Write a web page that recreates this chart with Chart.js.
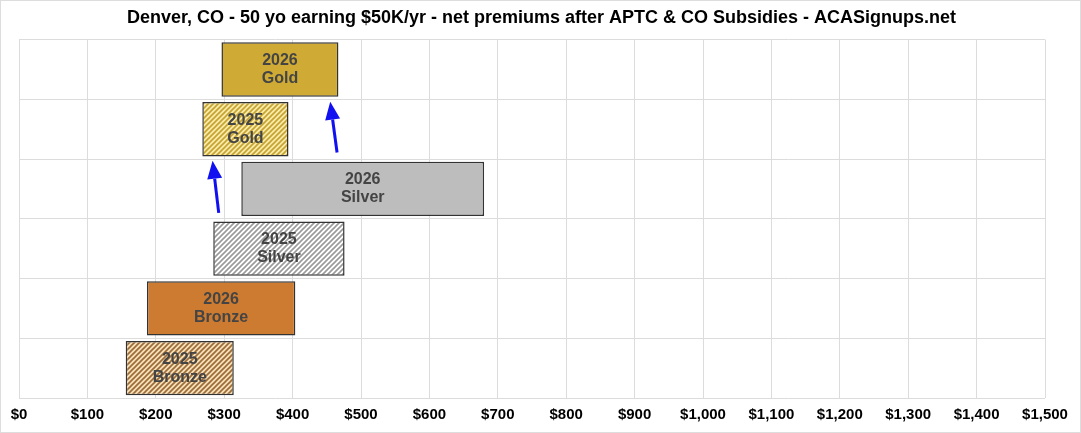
<!DOCTYPE html>
<html>
<head>
<meta charset="utf-8">
<script src="https://cdn.jsdelivr.net/npm/chart.js@4"></script>
<style>
  html, body { margin: 0; padding: 0; background: #fff; }
  #wrap { width: 1081px; height: 433px; position: relative; box-sizing: border-box; border: 1px solid #ddd; }
</style>
</head>
<body>
<div id="wrap"><canvas id="chart"></canvas></div>
<script>
const chartTitle = "Denver, CO - 50 yo earning $50K/yr - net premiums after APTC & CO Subsidies - ACASignups.net";
// plan tiers, top to bottom
const years = ["2026", "2025", "2026", "2025", "2026", "2025"];
const metals = ["Gold", "Gold", "Silver", "Silver", "Bronze", "Bronze"];
// net monthly premium range (lowest, highest) per tier
const lowPremium = [296, 268, 325, 284, 187, 156];
const highPremium = [467, 394, 680, 476, 404, 314];
const xTicks = [0, 100, 200, 300, 400, 500, 600, 700, 800, 900, 1000, 1100, 1200, 1300, 1400, 1500];

// blue arrows: from (x, category position) to (x, category position)
const arrowFromX = [292, 465];
const arrowFromY = [2.4, 1.39];
const arrowToX = [283, 455];
const arrowToY = [1.53, 0.54];

function hatch(bg, fg) {
  const c = document.createElement("canvas");
  c.width = 5; c.height = 5;
  const g = c.getContext("2d");
  g.fillStyle = bg;
  g.fillRect(0, 0, 5, 5);
  g.strokeStyle = fg;
  g.lineWidth = 1.6;
  g.beginPath();
  g.moveTo(-1, 6); g.lineTo(6, -1);
  g.moveTo(-1, 1); g.lineTo(1, -1);
  g.moveTo(4, 6); g.lineTo(6, 4);
  g.stroke();
  return g.createPattern(c, "repeat");
}

const ctx = document.getElementById("chart").getContext("2d");
const fills = [
  "#cfab35",
  hatch("#f7eaa8", "#c6a330"),
  "#bdbdbd",
  hatch("#ffffff", "#9a9a9a"),
  "#cd7b30",
  hatch("#f4dfb8", "#9c6a36")
];

// title centred on the whole canvas, not on the padded box
const titlePlugin = {
  id: "centredTitle",
  afterDraw(chart) {
    const g = chart.ctx;
    g.save();
    g.fillStyle = "#000";
    g.font = "bold 18px 'Liberation Sans', Arial, sans-serif";
    g.textAlign = "center";
    g.textBaseline = "middle";
    g.fillText(chartTitle, chart.width / 2 + 1, 17);
    g.restore();
  }
};

const barText = {
  id: "barText",
  afterDatasetsDraw(chart) {
    const g = chart.ctx;
    const meta = chart.getDatasetMeta(0);
    g.save();
    g.fillStyle = "#444";
    g.font = "bold 16px 'Liberation Sans', Arial, sans-serif";
    g.textAlign = "center";
    g.textBaseline = "middle";
    meta.data.forEach((bar, i) => {
      const p = bar.getProps(["x", "y", "base"], true);
      const cx = (p.x + p.base) / 2;
      g.fillText(years[i], cx, p.y - 9);
      g.fillText(metals[i], cx, p.y + 9);
    });
    g.restore();
  }
};

const arrows = {
  id: "arrows",
  afterDatasetsDraw(chart) {
    const g = chart.ctx;
    const xs = chart.scales.x, ys = chart.scales.y;
    g.save();
    g.strokeStyle = "#1010f0";
    g.fillStyle = "#1010f0";
    g.lineWidth = 3;
    for (let i = 0; i < arrowFromX.length; i++) {
      const x1 = xs.getPixelForValue(arrowFromX[i]);
      const y1 = ys.getPixelForValue(arrowFromY[i]);
      const x2 = xs.getPixelForValue(arrowToX[i]);
      const y2 = ys.getPixelForValue(arrowToY[i]);
      const a = Math.atan2(y2 - y1, x2 - x1);
      const head = 18, w = 7.5;
      const bx = x2 - head * Math.cos(a), by = y2 - head * Math.sin(a);
      g.beginPath();
      g.moveTo(x1, y1);
      g.lineTo(bx, by);
      g.stroke();
      g.beginPath();
      g.moveTo(x2, y2);
      g.lineTo(bx + w * Math.sin(a), by - w * Math.cos(a));
      g.lineTo(bx - w * Math.sin(a), by + w * Math.cos(a));
      g.closePath();
      g.fill();
    }
    g.restore();
  }
};

new Chart(ctx, {
  type: "bar",
  data: {
    labels: years.map((y, i) => y + " " + metals[i]),
    datasets: [{
      data: lowPremium.map((v, i) => [v, highPremium[i]]),
      backgroundColor: fills,
      borderColor: "#333",
      borderWidth: 1.5,
      borderSkipped: false,
      categoryPercentage: 1,
      barPercentage: 0.91
    }]
  },
  options: {
    indexAxis: "y",
    responsive: true,
    maintainAspectRatio: false,
    animation: false,
    layout: { padding: { left: 18, right: 35, top: 38.6, bottom: 0 } },
    plugins: {
      legend: { display: false },
      tooltip: { enabled: false },
      title: { display: false }
    },
    scales: {
      x: {
        type: "linear",
        min: 0,
        max: 1500,
        afterBuildTicks(axis) { axis.ticks = xTicks.map(v => ({ value: v })); },
        grid: { color: "#dcdcdc", drawTicks: false },
        border: { display: false },
        ticks: {
          padding: 8,
          color: "#000",
          maxRotation: 0,
          autoSkip: false,
          font: { family: "'Liberation Sans', Arial, sans-serif", size: 15, weight: "bold" },
          callback: v => "$" + v.toLocaleString("en-US")
        }
      },
      y: {
        grid: { color: "#dcdcdc", offset: true, drawTicks: false },
        border: { display: false },
        ticks: { display: false }
      }
    }
  },
  plugins: [titlePlugin, barText, arrows]
});
</script>
</body>
</html>
